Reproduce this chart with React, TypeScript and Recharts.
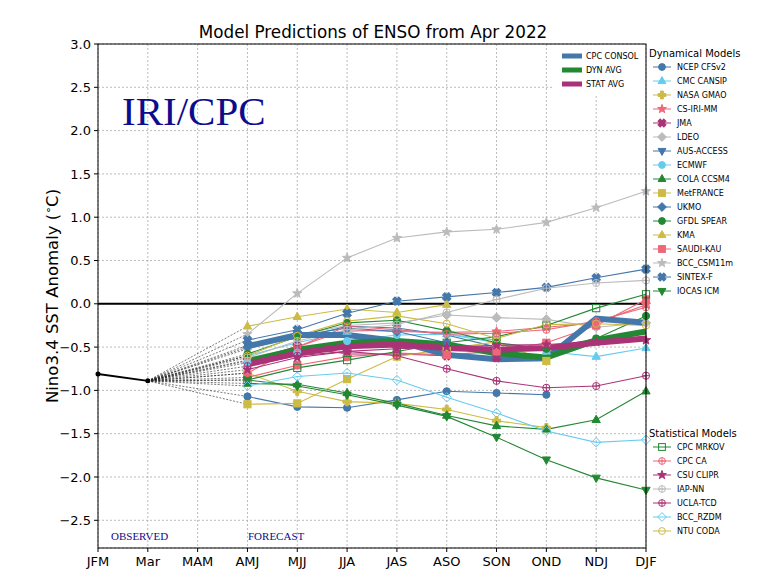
import { LineChart, Line, XAxis, YAxis, CartesianGrid, ReferenceLine } from 'recharts'

// ---------------------------------------------------------------------------
// Data
// ---------------------------------------------------------------------------

const seasons = ['JFM', 'Mar', 'MAM', 'AMJ', 'MJJ', 'JJA', 'JAS', 'ASO', 'SON', 'OND', 'NDJ', 'DJF']
const yTicks = [-2.5, -2.0, -1.5, -1.0, -0.5, 0.0, 0.5, 1.0, 1.5, 2.0, 2.5, 3.0]

// observed Nino3.4 anomaly: JFM season and March
const observed = [-0.81, -0.89]

// forecasts, first entry is AMJ
const ncepCfsv2 = [-1.07, -1.19, -1.2, -1.11, -1.01, -1.03, -1.05]
const cmcCansip = [-0.6, -0.45, -0.32, -0.3, -0.35, -0.45, -0.55, -0.61, -0.51]
const nasaGmao = [-0.8, -1.01, -1.13, -1.15, -1.22, -1.35, -1.43]
const csIriMm = [-0.65, -0.5, -0.3, -0.32, -0.33, -0.32, -0.27, -0.22, -0.01]
const jma = [-0.66, -0.49, -0.58, -0.58, -0.6, -0.62]
const ldeo = [-0.52, -0.36, -0.25, -0.22, -0.13, -0.16, -0.18, -0.27, -0.22]
const ausAccess = [-0.48, -0.4, -0.26, -0.28, -0.36, -0.5]
const ecmwf = [-0.68, -0.56, -0.43, -0.36, -0.35, -0.42]
const colaCcsm4 = [-0.92, -0.93, -1.03, -1.15, -1.29, -1.41, -1.45, -1.34, -1.01]
const metFrance = [-1.16, -1.15, -0.87, -0.61, -0.52, -0.44, -0.66]
const ukmo = [-0.5, -0.37, -0.28, -0.32, -0.45, -0.55]
const gfdlSpear = [-0.58, -0.38, -0.22, -0.19, -0.31, -0.45, -0.52, -0.4, -0.14]
const kma = [-0.26, -0.15, -0.06, -0.1, -0.01]
const saudiKau = [-0.85, -0.71, -0.61, -0.57, -0.59, -0.55, -0.45, -0.25, 0.05]
const bccCsm11m = [-0.35, 0.12, 0.53, 0.76, 0.83, 0.86, 0.94, 1.11, 1.3]
const sintexF = [-0.42, -0.3, -0.11, 0.03, 0.08, 0.13, 0.19, 0.3, 0.4]
const iocasIcm = [-0.88, -0.95, -1.05, -1.17, -1.3, -1.54, -1.8, -2.01, -2.15]

const cpcMrkov = [-0.88, -0.74, -0.65, -0.55, -0.45, -0.38, -0.25, -0.05, 0.11]
const cpcCa = [-0.8, -0.5, -0.26, -0.3, -0.35, -0.34, -0.3, -0.2, -0.04]
const csuClipr = [-0.76, -0.62, -0.55, -0.52, -0.5, -0.48, -0.47, -0.44, -0.42]
const iapNn = [-0.62, -0.43, -0.3, -0.24, -0.1, 0.05, 0.18, 0.24, 0.27]
const uclaTcd = [-0.72, -0.6, -0.55, -0.6, -0.75, -0.89, -0.97, -0.95, -0.83]
const bccRzdm = [-0.95, -0.84, -0.8, -0.88, -1.08, -1.26, -1.47, -1.6, -1.57]
const ntuCoda = [-0.6, -0.37, -0.2, -0.14, -0.23, -0.4, -0.24, -0.23, -0.25]

const cpcConsol = [-0.49, -0.36, -0.36, -0.43, -0.59, -0.64, -0.63, -0.17, -0.22]
const dynAvg = [-0.66, -0.53, -0.45, -0.43, -0.47, -0.57, -0.62, -0.42, -0.32]
const statAvg = [-0.7, -0.57, -0.49, -0.47, -0.51, -0.53, -0.51, -0.45, -0.4]

// ---------------------------------------------------------------------------
// Styling
// ---------------------------------------------------------------------------

const W = 758
const H = 586
const Y_MIN = -2.82
const Y_MAX = 3
const FIRST_LEAD = 3 // index of AMJ in seasons

const FONT = '"DejaVu Sans", Verdana, sans-serif'
const SERIF = '"Liberation Serif", "Times New Roman", serif'
const NAVY = '#0c0c8c'

const BLUE = '#4477AA'
const CYAN = '#66CCEE'
const GREEN = '#228833'
const YELLOW = '#CCBB44'
const RED = '#EE6677'
const PURPLE = '#AA3377'
const GREY = '#BBBBBB'

type Shape = 'circle' | 'square' | 'diamond' | 'triUp' | 'triDown' | 'star' | 'plus' | 'cross' | 'circlePlus'

interface Model {
  key: string
  name: string
  color: string
  shape: Shape
  open?: boolean
  values: number[]
}

const dynamicalModels: Model[] = [
  { key: 'ncep', name: 'NCEP CFSv2', color: BLUE, shape: 'circle', values: ncepCfsv2 },
  { key: 'cmc', name: 'CMC CANSIP', color: CYAN, shape: 'triUp', values: cmcCansip },
  { key: 'gmao', name: 'NASA GMAO', color: YELLOW, shape: 'plus', values: nasaGmao },
  { key: 'csiri', name: 'CS-IRI-MM', color: RED, shape: 'star', values: csIriMm },
  { key: 'jma', name: 'JMA', color: PURPLE, shape: 'cross', values: jma },
  { key: 'ldeo', name: 'LDEO', color: GREY, shape: 'diamond', values: ldeo },
  { key: 'aus', name: 'AUS-ACCESS', color: BLUE, shape: 'triDown', values: ausAccess },
  { key: 'ecmwf', name: 'ECMWF', color: CYAN, shape: 'circle', values: ecmwf },
  { key: 'cola', name: 'COLA CCSM4', color: GREEN, shape: 'triUp', values: colaCcsm4 },
  { key: 'metfr', name: 'MetFRANCE', color: YELLOW, shape: 'square', values: metFrance },
  { key: 'ukmo', name: 'UKMO', color: BLUE, shape: 'diamond', values: ukmo },
  { key: 'gfdl', name: 'GFDL SPEAR', color: GREEN, shape: 'circle', values: gfdlSpear },
  { key: 'kma', name: 'KMA', color: YELLOW, shape: 'triUp', values: kma },
  { key: 'saudi', name: 'SAUDI-KAU', color: RED, shape: 'square', values: saudiKau },
  { key: 'bcccsm', name: 'BCC_CSM11m', color: GREY, shape: 'star', values: bccCsm11m },
  { key: 'sintex', name: 'SINTEX-F', color: BLUE, shape: 'cross', values: sintexF },
  { key: 'iocas', name: 'IOCAS ICM', color: GREEN, shape: 'triDown', values: iocasIcm },
]

const statisticalModels: Model[] = [
  { key: 'mrkov', name: 'CPC MRKOV', color: GREEN, shape: 'square', open: true, values: cpcMrkov },
  { key: 'cpcca', name: 'CPC CA', color: RED, shape: 'circlePlus', open: true, values: cpcCa },
  { key: 'clipr', name: 'CSU CLIPR', color: PURPLE, shape: 'star', values: csuClipr },
  { key: 'iapnn', name: 'IAP-NN', color: GREY, shape: 'circlePlus', open: true, values: iapNn },
  { key: 'ucla', name: 'UCLA-TCD', color: PURPLE, shape: 'circlePlus', open: true, values: uclaTcd },
  { key: 'rzdm', name: 'BCC_RZDM', color: CYAN, shape: 'diamond', open: true, values: bccRzdm },
  { key: 'coda', name: 'NTU CODA', color: YELLOW, shape: 'circle', open: true, values: ntuCoda },
]

const averages = [
  { key: 'consol', name: 'CPC CONSOL', color: BLUE, values: cpcConsol },
  { key: 'dyn', name: 'DYN AVG', color: GREEN, values: dynAvg },
  { key: 'stat', name: 'STAT AVG', color: PURPLE, values: statAvg },
]

const allModels = [...dynamicalModels, ...statisticalModels]

// one row per season; each model also gets a "_link" key that joins March to its first lead
const rows = seasons.map((season, i) => {
  const row: Record<string, string | number> = { season }
  if (i < observed.length) row.obs = observed[i]
  for (const m of [...allModels, ...averages]) {
    const v = m.values[i - FIRST_LEAD]
    if (v !== undefined) row[m.key] = v
  }
  for (const m of allModels) {
    if (i === observed.length - 1) row[`${m.key}_link`] = observed[observed.length - 1]
    if (i === FIRST_LEAD) row[`${m.key}_link`] = m.values[0]
  }
  return row
})

// ---------------------------------------------------------------------------
// Markers
// ---------------------------------------------------------------------------

function starPoints(cx: number, cy: number, outer: number, inner: number) {
  const pts: string[] = []
  for (let k = 0; k < 10; k++) {
    const r = k % 2 === 0 ? outer : inner
    const a = -Math.PI / 2 + (k * Math.PI) / 5
    pts.push(`${cx + r * Math.cos(a)},${cy + r * Math.sin(a)}`)
  }
  return pts.join(' ')
}

function plusPoints(cx: number, cy: number, len: number, half: number) {
  const p = [
    [-half, -len], [half, -len], [half, -half], [len, -half], [len, half], [half, half],
    [half, len], [-half, len], [-half, half], [-len, half], [-len, -half], [-half, -half],
  ]
  return p.map(([x, y]) => `${cx + x},${cy + y}`).join(' ')
}

function Marker({ cx, cy, shape, color, open = false, s = 3.6 }: {
  cx: number
  cy: number
  shape: Shape
  color: string
  open?: boolean
  s?: number
}) {
  const fill = open ? 'none' : color
  const common = { fill, stroke: color, strokeWidth: 1 }
  switch (shape) {
    case 'circle':
      return <circle cx={cx} cy={cy} r={s} {...common} />
    case 'square':
      return <rect x={cx - s} y={cy - s} width={2 * s} height={2 * s} {...common} />
    case 'diamond': {
      const d = s * 1.3
      return <polygon points={`${cx},${cy - d} ${cx + d},${cy} ${cx},${cy + d} ${cx - d},${cy}`} {...common} />
    }
    case 'triUp':
      return (
        <polygon
          points={`${cx},${cy - 1.3 * s} ${cx + 1.15 * s},${cy + 0.75 * s} ${cx - 1.15 * s},${cy + 0.75 * s}`}
          {...common}
        />
      )
    case 'triDown':
      return (
        <polygon
          points={`${cx},${cy + 1.3 * s} ${cx + 1.15 * s},${cy - 0.75 * s} ${cx - 1.15 * s},${cy - 0.75 * s}`}
          {...common}
        />
      )
    case 'star':
      return <polygon points={starPoints(cx, cy, 1.35 * s, 0.55 * s)} {...common} />
    case 'plus':
      return <polygon points={plusPoints(cx, cy, 1.15 * s, 0.42 * s)} {...common} />
    case 'cross':
      return (
        <polygon
          points={plusPoints(cx, cy, 1.2 * s, 0.45 * s)}
          transform={`rotate(45 ${cx} ${cy})`}
          {...common}
        />
      )
    case 'circlePlus':
      return (
        <g stroke={color} strokeWidth={1} fill={fill}>
          <circle cx={cx} cy={cy} r={s} />
          <line x1={cx - s} y1={cy} x2={cx + s} y2={cy} />
          <line x1={cx} y1={cy - s} x2={cx} y2={cy + s} />
        </g>
      )
  }
}

function dotFor(m: Model) {
  return (p: any) => {
    const k = `${m.key}-${p.index}`
    if (p.cx == null || p.cy == null || p.value == null || Number.isNaN(p.cy)) return <g key={k} />
    return (
      <g key={k}>
        <Marker cx={p.cx} cy={p.cy} shape={m.shape} color={m.color} open={m.open} />
      </g>
    )
  }
}

const fmtY = (v: number) => v.toFixed(1).replace('-', '\u2212')

// ---------------------------------------------------------------------------
// Legends
// ---------------------------------------------------------------------------

function ModelLegend({ title, models, top }: { title: string; models: Model[]; top: number }) {
  return (
    <g fontFamily={FONT}>
      <text x={649} y={top + 4} fontSize={10} fill="#000">
        {title}
      </text>
      {models.map((m, i) => {
        const y = top + 14 * (i + 1)
        return (
          <g key={m.key}>
            <line x1={653} x2={671} y1={y} y2={y} stroke={m.color} strokeWidth={1} />
            <Marker cx={662} cy={y} shape={m.shape} color={m.color} open={m.open} s={3.4} />
            <text x={677} y={y + 3} fontSize={8} fill="#000">
              {m.name}
            </text>
          </g>
        )
      })}
    </g>
  )
}

// ---------------------------------------------------------------------------
// App
// ---------------------------------------------------------------------------

export default function App() {
  return (
    <div style={{ position: 'absolute', left: 0, top: 0, width: W, height: H, background: '#fff' }}>
      <LineChart width={W} height={H} data={rows} margin={{ top: 44, right: 112, bottom: 8, left: 38 }}>
        <CartesianGrid stroke="#aaaaaa" strokeDasharray="2 2" strokeWidth={0.8} />
        <XAxis
          dataKey="season"
          interval={0}
          height={30}
          axisLine={false}
          tickLine={{ stroke: '#000' }}
          tickSize={4}
          tickMargin={5}
          tick={{ fill: '#000', fontSize: 13, fontFamily: FONT }}
        />
        <YAxis
          type="number"
          domain={[Y_MIN, Y_MAX]}
          ticks={yTicks}
          allowDataOverflow
          width={60}
          axisLine={false}
          tickLine={{ stroke: '#000' }}
          tickSize={4}
          tickMargin={3}
          tickFormatter={fmtY}
          tick={{ fill: '#000', fontSize: 13, fontFamily: FONT }}
        />
        <ReferenceLine y={0} stroke="#000" strokeWidth={2} />

        {/* dotted links from the last observation to each model's first lead */}
        {allModels.map((m) => (
          <Line
            key={`${m.key}_link`}
            dataKey={`${m.key}_link`}
            stroke="#222"
            strokeWidth={0.6}
            strokeDasharray="2 1.5"
            dot={false}
            connectNulls
            isAnimationActive={false}
          />
        ))}

        <Line
          dataKey="obs"
          stroke="#000"
          strokeWidth={2}
          dot={{ r: 1.5, fill: '#000', stroke: '#000' }}
          isAnimationActive={false}
        />

        {allModels.map((m) => (
          <Line
            key={m.key}
            dataKey={m.key}
            stroke={m.color}
            strokeWidth={1.1}
            dot={dotFor(m)}
            activeDot={false}
            isAnimationActive={false}
          />
        ))}

        {averages.map((a) => (
          <Line
            key={a.key}
            dataKey={a.key}
            stroke={a.color}
            strokeWidth={6}
            dot={false}
            activeDot={false}
            isAnimationActive={false}
          />
        ))}
      </LineChart>

      <svg width={W} height={H} style={{ position: 'absolute', left: 0, top: 0, pointerEvents: 'none' }}>
        {/* axes frame */}
        <rect x={98} y={44} width={548} height={504} fill="none" stroke="#000" strokeWidth={1} />

        <text x={373} y={38} textAnchor="middle" fontFamily={FONT} fontSize={16.8} fill="#000">
          Model Predictions of ENSO from Apr 2022
        </text>

        <text
          transform="translate(58 296) rotate(-90)"
          textAnchor="middle"
          fontFamily={FONT}
          fontSize={16.5}
          fill="#000"
        >
          Nino3.4 SST Anomaly (<tspan dy={-6} fontSize={11}>∘</tspan>
          <tspan dy={6}>C)</tspan>
        </text>

        <text x={122} y={125} fontFamily={SERIF} fontSize={41} fill={NAVY}>
          IRI/CPC
        </text>
        <text x={111} y={540} fontFamily={SERIF} fontSize={11} fill={NAVY}>
          OBSERVED
        </text>
        <text x={248} y={540} fontFamily={SERIF} fontSize={11} fill={NAVY}>
          FORECAST
        </text>

        {/* averages legend inside the axes */}
        <rect x={553} y={45} width={92} height={50} fill="#fff" />
        {averages.map((a, i) => {
          const y = 56 + 14 * i
          return (
            <g key={a.key} fontFamily={FONT}>
              <rect x={562} y={y - 2.5} width={20} height={5} fill={a.color} />
              <text x={586} y={y + 3} fontSize={8} fill="#000">
                {a.name}
              </text>
            </g>
          )
        })}

        <ModelLegend title="Dynamical Models" models={dynamicalModels} top={53} />
        <ModelLegend title="Statistical Models" models={statisticalModels} top={433} />
      </svg>
    </div>
  )
}
